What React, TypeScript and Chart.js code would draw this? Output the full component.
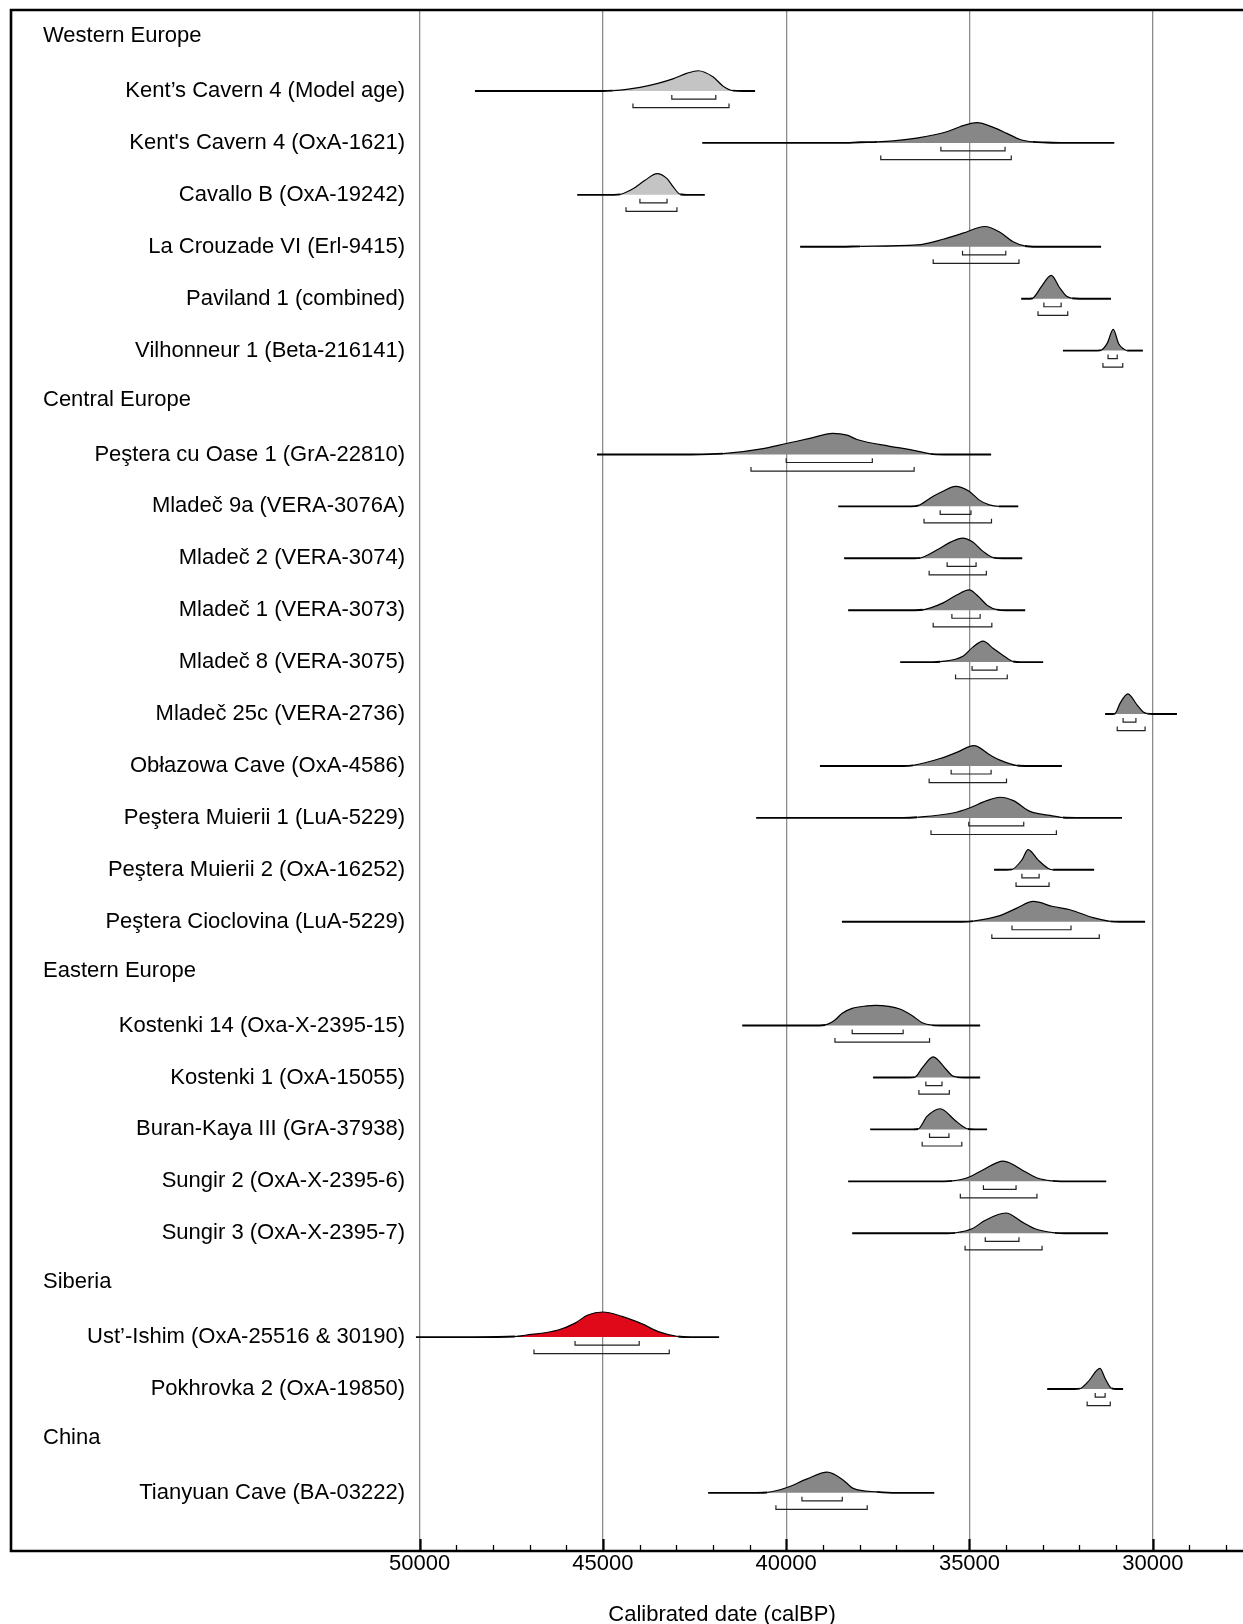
import React, { useEffect, useRef } from "react";
import { Chart, registerables } from "chart.js";

Chart.register(...registerables);

// Region headings, in the order they appear down the plot
const regions = ["Western Europe", "Central Europe", "Eastern Europe", "Siberia", "China"];

// Samples (top to bottom) and the region each belongs to
const sampleNames = [
  "Kent’s Cavern 4 (Model age)",
  "Kent's Cavern 4 (OxA-1621)",
  "Cavallo B (OxA-19242)",
  "La Crouzade VI (Erl-9415)",
  "Paviland 1 (combined)",
  "Vilhonneur 1 (Beta-216141)",
  "Peştera cu Oase 1 (GrA-22810)",
  "Mladeč 9a (VERA-3076A)",
  "Mladeč 2 (VERA-3074)",
  "Mladeč 1 (VERA-3073)",
  "Mladeč 8 (VERA-3075)",
  "Mladeč 25c (VERA-2736)",
  "Obłazowa Cave (OxA-4586)",
  "Peştera Muierii 1 (LuA-5229)",
  "Peştera Muierii 2 (OxA-16252)",
  "Peştera Cioclovina (LuA-5229)",
  "Kostenki 14 (Oxa-X-2395-15)",
  "Kostenki 1 (OxA-15055)",
  "Buran-Kaya III (GrA-37938)",
  "Sungir 2 (OxA-X-2395-6)",
  "Sungir 3 (OxA-X-2395-7)",
  "Ust’-Ishim (OxA-25516 & 30190)",
  "Pokhrovka 2 (OxA-19850)",
  "Tianyuan Cave (BA-03222)",
];
const sampleRegion = [0, 0, 0, 0, 0, 0, 1, 1, 1, 1, 1, 1, 1, 1, 1, 1, 2, 2, 2, 2, 2, 3, 3, 4];
// "model" = modelled / context age, "direct" = direct date, "focus" = highlighted individual
const sampleKind = [
  "model", "direct", "model", "direct", "direct", "direct",
  "direct", "direct", "direct", "direct", "direct", "direct", "direct", "direct", "direct", "direct",
  "direct", "direct", "direct", "direct", "direct",
  "focus", "direct", "direct",
];

// Calibrated probability distributions: [calBP, relative density]
const densities: [number, number][][] = [
  [[48490, 0], [45000, 0], [44730, 0.02], [44350, 0.08], [43990, 0.18], [43500, 0.38], [43090, 0.6], [42700, 0.88], [42400, 1], [42000, 0.7], [41720, 0.24], [41450, 0.02], [41200, 0], [40850, 0]],
  [[42290, 0], [38500, 0], [37980, 0.03], [37520, 0.05], [37080, 0.1], [36400, 0.25], [35620, 0.55], [35260, 0.8], [34800, 1], [34350, 0.77], [33980, 0.47], [33620, 0.17], [33270, 0.05], [32900, 0.02], [32400, 0], [31050, 0]],
  [[45700, 0], [44700, 0], [44530, 0.02], [44180, 0.3], [43850, 0.72], [43520, 1.05], [43250, 0.8], [43080, 0.39], [42890, 0.03], [42700, 0], [42220, 0]],
  [[39620, 0], [38500, 0], [37980, 0.02], [36430, 0.09], [35720, 0.37], [35180, 0.67], [34580, 1], [34170, 0.72], [33810, 0.25], [33490, 0.04], [33160, 0], [31410, 0]],
  [[33590, 0], [33350, 0], [33270, 0.03], [33030, 0.62], [32770, 1.15], [32540, 0.54], [32350, 0.12], [32200, 0.02], [32000, 0], [31140, 0]],
  [[32450, 0], [31500, 0], [31410, 0.02], [31240, 0.37], [31080, 1.05], [30930, 0.34], [30810, 0.1], [30700, 0], [30270, 0]],
  [[45160, 0], [42600, 0], [41720, 0.04], [40630, 0.29], [40000, 0.54], [39360, 0.79], [38730, 1.04], [38340, 0.95], [38070, 0.74], [37170, 0.4], [36620, 0.24], [36070, 0.03], [35700, 0], [34410, 0]],
  [[38580, 0], [36600, 0], [36380, 0.05], [35990, 0.5], [35720, 0.75], [35380, 0.99], [35010, 0.75], [34740, 0.32], [34460, 0.07], [34200, 0], [33670, 0]],
  [[38420, 0], [36500, 0], [36340, 0.02], [35880, 0.42], [35520, 0.8], [35180, 1], [34910, 0.8], [34630, 0.34], [34350, 0.03], [34100, 0], [33560, 0]],
  [[38310, 0], [36500, 0], [36270, 0.02], [35720, 0.36], [35350, 0.75], [35010, 1], [34770, 0.7], [34520, 0.25], [34250, 0.03], [34000, 0], [33480, 0]],
  [[36890, 0], [36000, 0], [35800, 0.02], [35180, 0.29], [34910, 0.74], [34630, 1.04], [34350, 0.67], [34110, 0.37], [33810, 0.03], [33600, 0], [32990, 0]],
  [[31300, 0], [31100, 0], [31030, 0.02], [30890, 0.54], [30680, 1], [30430, 0.45], [30260, 0.1], [30150, 0.02], [30000, 0], [29340, 0]],
  [[39080, 0], [36800, 0], [36540, 0.03], [35800, 0.37], [35350, 0.67], [34880, 1], [34440, 0.54], [34170, 0.29], [33700, 0.02], [33400, 0], [32480, 0]],
  [[40820, 0], [36800, 0], [36430, 0.03], [35450, 0.24], [35000, 0.49], [34530, 0.85], [34170, 1.02], [33800, 0.85], [33350, 0.32], [32800, 0.12], [32450, 0.02], [32100, 0], [30840, 0]],
  [[34330, 0], [34000, 0], [33840, 0.02], [33570, 0.49], [33400, 1], [33130, 0.49], [32860, 0.08], [32720, 0], [31600, 0]],
  [[38480, 0], [35200, 0], [34900, 0.03], [34170, 0.3], [33710, 0.67], [33260, 1], [32720, 0.75], [32260, 0.59], [31630, 0.2], [31160, 0.02], [30900, 0], [30210, 0]],
  [[41200, 0], [39300, 0], [38940, 0.03], [38670, 0.27], [38480, 0.6], [38200, 0.85], [37800, 0.97], [37570, 1], [37200, 0.95], [36900, 0.82], [36570, 0.5], [36290, 0.14], [36020, 0.02], [35700, 0], [34710, 0]],
  [[37630, 0], [36650, 0], [36490, 0.02], [36290, 0.47], [35990, 1.02], [35670, 0.47], [35480, 0.1], [35340, 0.02], [35150, 0], [34710, 0]],
  [[37710, 0], [36550, 0], [36400, 0.02], [36160, 0.64], [35800, 1.02], [35390, 0.44], [35200, 0.17], [35040, 0.02], [34850, 0], [34520, 0]],
  [[38310, 0], [35700, 0], [35470, 0.02], [35040, 0.19], [34650, 0.55], [34080, 1], [33480, 0.47], [33130, 0.15], [32740, 0.02], [32500, 0], [31270, 0]],
  [[38200, 0], [35600, 0], [35390, 0.02], [34930, 0.22], [34570, 0.64], [34010, 1], [33560, 0.55], [33210, 0.22], [32670, 0.02], [32400, 0], [31220, 0]],
  [[50100, 0], [48500, 0], [47400, 0.03], [47120, 0.09], [46220, 0.35], [45760, 0.69], [45410, 1.09], [45000, 1.24], [44480, 1.02], [43930, 0.65], [43490, 0.27], [42950, 0.03], [42600, 0], [41830, 0]],
  [[32880, 0], [32150, 0], [31990, 0.02], [31770, 0.35], [31440, 1.02], [31300, 0.52], [31120, 0.03], [31000, 0], [30810, 0]],
  [[42130, 0], [40800, 0], [40520, 0.02], [40000, 0.25], [39430, 0.69], [38880, 1.02], [38450, 0.64], [38170, 0.22], [37520, 0.05], [37000, 0], [35960, 0]],
];

// Highest posterior density ranges (calBP, older -> younger)
const range68: [number, number][] = [
  [43120, 41920], [35780, 34030], [43990, 43250], [35190, 34010], [32970, 32500], [31220, 30970],
  [40000, 37650], [35800, 34960], [35610, 34820], [35480, 34710], [34930, 34250], [30810, 30460],
  [35500, 34410], [35020, 33520], [33570, 33100], [33840, 32230],
  [38200, 36810], [36190, 35750], [36090, 35560], [34620, 33730], [34570, 33650],
  [45760, 44010], [31570, 31300], [39570, 38470],
];
const range95: [number, number][] = [
  [44180, 41560], [37420, 33860], [44370, 42980], [35990, 33650], [33130, 32320], [31360, 30820],
  [40960, 36510], [36240, 34400], [36100, 34540], [35990, 34390], [35380, 33970], [30970, 30210],
  [36100, 33990], [36050, 32630], [33730, 32830], [34390, 31460],
  [38670, 36090], [36380, 35550], [36290, 35210], [35250, 33160], [35120, 33020],
  [46880, 43190], [31790, 31160], [40280, 37790],
];

// Axis
const majorTicks = [50000, 45000, 40000, 35000, 30000];
const minorStep = 1000;
const axisTitle = "Calibrated date (calBP)";

// Drawing constants
const FONT = '"Liberation Sans", Arial, Helvetica, sans-serif';
const PEAK = 0.39; // height (in rows) of a unit density
const OFF68 = 0.155;
const OFF95 = 0.32;
const TICK = 0.08;
const FILLS: Record<string, string> = { model: "#c4c4c4", direct: "#878787", focus: "#e0091a" };

type Row = { kind: "header" | "sample"; text: string; index: number };

function buildRows(): { rows: Row[]; sampleRow: number[] } {
  const rows: Row[] = [];
  const sampleRow: number[] = [];
  let current = -1;
  sampleNames.forEach((name, i) => {
    if (sampleRegion[i] !== current) {
      current = sampleRegion[i];
      rows.push({ kind: "header", text: regions[current], index: rows.length });
    }
    sampleRow.push(rows.length);
    rows.push({ kind: "sample", text: name, index: rows.length });
  });
  return { rows, sampleRow };
}

export default function App() {
  const canvasRef = useRef<HTMLCanvasElement | null>(null);

  useEffect(() => {
    document.body.style.margin = "0";
    const canvas = canvasRef.current;
    if (!canvas) return;
    const { rows, sampleRow } = buildRows();

    const datasets: any[] = [];
    sampleNames.forEach((_, i) => {
      const r = sampleRow[i];
      const flat = 0.06 * PEAK;
      datasets.push({
        data: densities[i].map(([d, p]) => ({ x: d, y: r - p * PEAK })),
        borderColor: "#000",
        borderWidth: 1.2,
        backgroundColor: FILLS[sampleKind[i]],
        fill: { value: r },
        cubicInterpolationMode: "monotone",
        pointRadius: 0,
        segment: {
          // the long low tails are drawn a little heavier than the outline of the peak
          borderWidth: (ctx: any) =>
            r - ctx.p0.parsed.y < flat && r - ctx.p1.parsed.y < flat ? 1.9 : 1.2,
        },
      });
      const brackets: [[number, number], number][] = [
        [range68[i], OFF68],
        [range95[i], OFF95],
      ];
      brackets.forEach(([[a, b], off]) => {
        datasets.push({
          data: [
            { x: a, y: r + off - TICK },
            { x: a, y: r + off },
            { x: b, y: r + off },
            { x: b, y: r + off - TICK },
          ],
          borderColor: "#222",
          borderWidth: 1.2,
          fill: false,
          tension: 0,
          pointRadius: 0,
        });
      });
    });

    const overlay = {
      id: "overlay",
      afterDraw(chart: any) {
        const ctx = chart.ctx as CanvasRenderingContext2D;
        const xs = chart.scales.x;
        const ys = chart.scales.y;
        const { left, top, right, bottom } = chart.chartArea;
        ctx.save();
        // frame and base axis line
        ctx.strokeStyle = "#000";
        ctx.lineWidth = 2.6;
        ctx.lineCap = "square";
        ctx.beginPath();
        ctx.moveTo(right + 2, top);
        ctx.lineTo(left, top);
        ctx.lineTo(left, bottom);
        ctx.lineTo(right + 2, bottom);
        ctx.stroke();
        // tick marks pointing into the plot
        ctx.lineCap = "butt";
        const lo = xs.min;
        for (let d = majorTicks[0]; d >= lo; d -= minorStep) {
          const x = Math.round(xs.getPixelForValue(d)) + 0.5;
          const major = majorTicks.includes(d);
          ctx.lineWidth = major ? 2.2 : 1.3;
          ctx.beginPath();
          ctx.moveTo(x, bottom);
          ctx.lineTo(x, bottom - (major ? 12 : 6));
          ctx.stroke();
        }
        // row labels
        ctx.fillStyle = "#000";
        ctx.font = `22px ${FONT}`;
        ctx.textBaseline = "middle";
        rows.forEach((row) => {
          const y = ys.getPixelForValue(row.index);
          if (row.kind === "header") {
            ctx.textAlign = "left";
            ctx.fillText(row.text, 43, y - 3);
          } else {
            ctx.textAlign = "right";
            ctx.fillText(row.text, 405, y);
          }
        });
        // axis title
        ctx.textAlign = "center";
        ctx.fillText(axisTitle, 722, 1615);
        ctx.restore();
      },
    };

    const chart = new Chart(canvas, {
      type: "line",
      data: { datasets },
      options: {
        animation: false,
        responsive: false,
        devicePixelRatio: 1,
        events: [],
        layout: { padding: { left: 11, top: 10, right: 0, bottom: 0 } },
        plugins: { legend: { display: false }, tooltip: { enabled: false } },
        scales: {
          x: {
            type: "linear",
            reverse: true,
            min: 27539,
            max: 61146,
            z: 1,
            afterBuildTicks: (scale: any) => {
              scale.ticks = majorTicks.map((v) => ({ value: v }));
            },
            afterFit: (scale: any) => {
              scale.height = 73;
            },
            border: { display: false },
            grid: { color: "#8c8c8c", lineWidth: 1.3, drawTicks: false },
            ticks: {
              autoSkip: false,
              maxRotation: 0,
              padding: 0,
              color: "#000",
              font: { family: FONT, size: 22 },
              callback: (v: any) => String(v),
            },
          },
          y: {
            type: "linear",
            reverse: true,
            min: -0.56,
            max: 29.12,
            display: false,
          },
        },
      },
      plugins: [overlay],
    } as any);

    return () => chart.destroy();
  }, []);

  return (
    <div style={{ position: "absolute", left: 0, top: 0, width: 1243, height: 1624 }}>
      <canvas ref={canvasRef} width={1243} height={1624} />
    </div>
  );
}
